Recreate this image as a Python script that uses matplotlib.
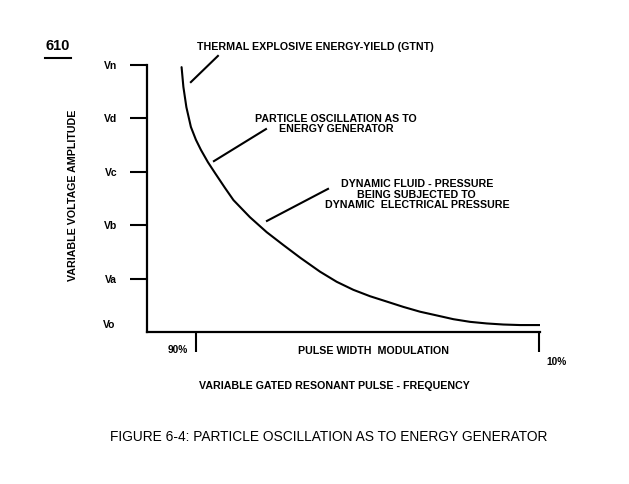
import matplotlib
matplotlib.use("Agg")
import matplotlib.pyplot as plt
from matplotlib.lines import Line2D

# ---- data ----
pulse_width_pct = [93.34, 92.92, 92.22, 91.17, 90.00, 88.83, 87.20, 85.57, 83.24,
                   81.25, 77.41, 73.51, 69.64, 65.67, 61.08, 57.18, 53.31, 49.42,
                   45.52, 41.65, 37.76, 33.86, 29.99, 26.09, 22.20, 18.33, 14.43, 9.77]
voltage_level = [4.96, 4.59, 4.21, 3.84, 3.60, 3.41, 3.18, 2.98, 2.70,
                 2.47, 2.15, 1.87, 1.63, 1.39, 1.13, 0.94, 0.79, 0.67,
                 0.57, 0.47, 0.38, 0.31, 0.24, 0.19, 0.16, 0.14, 0.13, 0.13]
y_tick_values = [1, 2, 3, 4, 5]
y_tick_labels = ["Va", "Vb", "Vc", "Vd", "Vn"]
x_tick_values = [90, 10]
x_tick_labels = ["90%", "10%"]

FONT = "Liberation Sans"
plt.rcParams["font.family"] = FONT

W, H = 629, 484
fig = plt.figure(figsize=(W / 100, H / 100), dpi=100)
fig.patch.set_facecolor("white")

def fx(px):
    return px / W

def fy(py):
    return (H - py) / H

ax = fig.add_axes([fx(147), fy(332), fx(540) - fx(147), fy(65) - fy(332)])
ax.set_xlim(101.4, 9.8)
ax.set_ylim(0, 5)

ax.plot(pulse_width_pct, voltage_level, color="black", lw=1.5,
        solid_capstyle="round", solid_joinstyle="round")

for s in ["top", "right"]:
    ax.spines[s].set_visible(False)
for s in ["left", "bottom"]:
    ax.spines[s].set_linewidth(1.6)

FS = 7.7
ax.set_yticks(y_tick_values)
ax.set_yticklabels(y_tick_labels, fontsize=7.5, fontweight="bold")
ax.tick_params(axis="y", length=12.5, width=1.5, pad=9, direction="out")
ax.set_xticks(x_tick_values)
ax.set_xticklabels([])
ax.tick_params(axis="x", length=14.5, width=1.5, direction="out")

ax.text(-0.08, 0.13, "Vo", transform=ax.get_yaxis_transform(), ha="right", va="center",
        fontsize=7.5, fontweight="bold")

# x tick labels placed beside ticks
ax.text(94.2, -0.34, x_tick_labels[0], ha="center", va="center", clip_on=False,
        fontsize=7.3, fontweight="bold")
ax.text(5.9, -0.56, x_tick_labels[1], ha="center", va="center", clip_on=False,
        fontsize=7.3, fontweight="bold")
ax.text(48.7, -0.36, "PULSE WIDTH  MODULATION", ha="center", va="center", clip_on=False,
        fontsize=FS, fontweight="bold")

# annotations
lab = dict(fontsize=FS, fontweight="bold", ha="center", va="center", clip_on=False,
           linespacing=1.05)
ax.text(62.25, 5.34, "THERMAL EXPLOSIVE ENERGY-YIELD (GTNT)", **lab)
ax.text(57.35, 3.90, "PARTICLE OSCILLATION AS TO\nENERGY GENERATOR", **lab)
ax.text(38.5, 2.57, "DYNAMIC FLUID - PRESSURE\nBEING SUBJECTED TO\nDYNAMIC  ELECTRICAL PRESSURE", **lab)
ax.plot([91.17, 84.87], [4.68, 5.17], color="black", lw=1.5, clip_on=False)
ax.plot([85.80, 73.67], [3.20, 3.80], color="black", lw=1.5, clip_on=False)
ax.plot([73.44, 59.21], [2.08, 2.68], color="black", lw=1.5, clip_on=False)

# axis titles
fig.text(fx(73), fy(195), "VARIABLE VOLTAGE AMPLITUDE", rotation=90, ha="center", va="center",
         fontsize=FS, fontweight="bold")
fig.text(fx(334), fy(386), "VARIABLE GATED RESONANT PULSE - FREQUENCY", ha="center", va="center",
         fontsize=FS, fontweight="bold")

# figure number and caption
fig.text(fx(58), fy(46), "610", ha="center", va="center", fontsize=10.5, fontweight="bold")
fig.add_artist(Line2D([fx(45), fx(71)], [fy(58), fy(58)], color="black", lw=1.5))
fig.text(fx(329), fy(437), "FIGURE 6-4: PARTICLE OSCILLATION AS TO ENERGY GENERATOR",
         ha="center", va="center", fontsize=9.9)

fig.savefig("out.png", dpi=100, facecolor="white")
